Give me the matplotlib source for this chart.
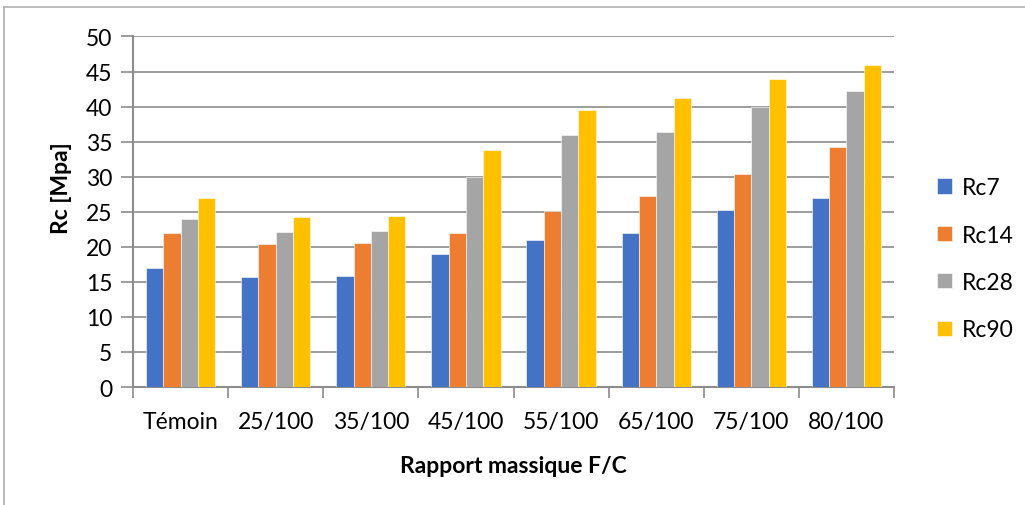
import numpy as np
import matplotlib
matplotlib.use("Agg")
import matplotlib.pyplot as plt
from matplotlib.lines import Line2D

plt.rcParams["font.family"] = ["Lato", "DejaVu Sans"]

categories = ["Témoin", "25/100", "35/100", "45/100", "55/100", "65/100", "75/100", "80/100"]
rc7 = [17.0, 15.7, 15.8, 19.0, 21.0, 22.0, 25.3, 27.0]
rc14 = [22.0, 20.4, 20.5, 22.0, 25.1, 27.2, 30.4, 34.2]
rc28 = [23.9, 22.1, 22.2, 30.0, 36.0, 36.4, 40.0, 42.2]
rc90 = [27.0, 24.2, 24.4, 33.8, 39.5, 41.2, 44.0, 45.9]
series = {"Rc7": rc7, "Rc14": rc14, "Rc28": rc28, "Rc90": rc90}
colors = ["#4472C4", "#ED7D31", "#A5A5A5", "#FFC000"]

fig = plt.figure(figsize=(10.25, 5.06), dpi=100)
ax = fig.add_axes([0.1298, 0.2332, 0.7424, 0.6927])

x = np.arange(len(categories))
w = 0.182
for i, (name, vals) in enumerate(series.items()):
    ax.bar(x + (i - 1.5) * w, vals, w, color=colors[i], label=name,
           edgecolor="white", linewidth=0.4, zorder=3)

ax.set_xlim(-0.5, len(categories) - 0.5)
ax.set_ylim(0, 50)
ax.set_yticks(range(0, 51, 5))
ax.grid(axis="y", color="#8c8c8c", linewidth=1.2, zorder=0)
ax.set_axisbelow(True)

# category labels on major ticks, boundary marks on minor ticks
ax.set_xticks(x)
ax.set_xticklabels(categories)
ax.set_xticks(np.arange(-0.5, len(categories), 1), minor=True)
ax.tick_params(axis="x", which="major", length=0, pad=17, labelsize=16.5)
ax.tick_params(axis="x", which="minor", length=8, width=1.2, color="#8c8c8c")
ax.tick_params(axis="y", length=9, width=1.2, color="#8c8c8c", pad=6, labelsize=16.5)

for s in ["top", "right"]:
    ax.spines[s].set_visible(False)
for s in ["left", "bottom"]:
    ax.spines[s].set_color("#8c8c8c")
    ax.spines[s].set_linewidth(1.5)

ax.set_xlabel("Rapport massique F/C", fontsize=16.5, fontweight="bold")
ax.xaxis.set_label_coords(0.5, -0.195)
ax.set_ylabel("Rc [Mpa]", fontsize=16.5, fontweight="bold")
ax.yaxis.set_label_coords(-0.08, 0.57)

ax.legend(loc="center left", bbox_to_anchor=(1.03, 0.366), frameon=False,
          fontsize=16.5, handlelength=0.65, handleheight=0.65, handletextpad=0.4,
          labelspacing=1.15)

# chart-area border
fig.add_artist(Line2D([4 / 1025, 4 / 1025], [0, 1 - 8 / 506], color="#b0b0b0", lw=1.2))
fig.add_artist(Line2D([4 / 1025, 1], [1 - 8 / 506, 1 - 8 / 506], color="#b0b0b0", lw=1.2))

fig.savefig("out.png", dpi=100)
